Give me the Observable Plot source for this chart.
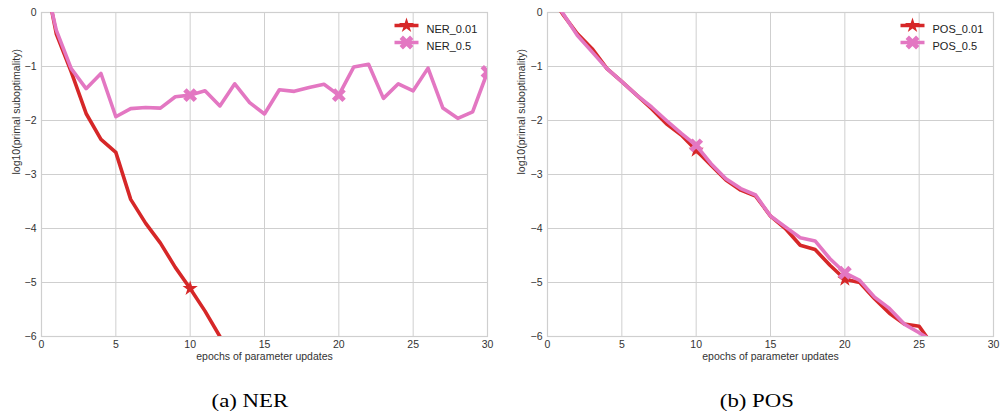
<!DOCTYPE html>
<html><head><meta charset="utf-8">
<script src="https://cdn.jsdelivr.net/npm/d3@7"></script>
<script src="https://cdn.jsdelivr.net/npm/@observablehq/plot@0.6"></script>
<style>
body{margin:0;background:#fff;width:1000px;height:416px;overflow:hidden}
#row{display:flex}
.panel{width:500px;height:416px;position:relative}
.cap{position:absolute;top:372px;height:44px;width:200px;text-align:center;font-family:"Liberation Serif","Times New Roman",serif;font-size:19px;line-height:20px;padding-top:19px;box-sizing:border-box;color:#000}
.cap span{display:inline-block;transform:scaleX(1.2)}
svg text{font-family:"Liberation Sans",Arial,sans-serif}
</style></head><body>
<div id="row"><div class="panel" id="a"></div><div class="panel" id="b"></div></div>
<script>
// ---- data ----
const epochs = [0,1,2,3,4,5,6,7,8,9,10,11,12,13,14,15,16,17,18,19,20,21,22,23,24,25,26,27,28,29,30];
const nerNames = ["NER_0.01","NER_0.5"];
const posNames = ["POS_0.01","POS_0.5"];
const ner001 = [1.0,-0.40,-1.10,-1.87,-2.35,-2.59,-3.46,-3.90,-4.27,-4.72,-5.11,-5.53,-6.00,-6.50];
const ner05  = [0.85,-0.33,-1.04,-1.41,-1.13,-1.93,-1.78,-1.76,-1.77,-1.56,-1.53,-1.45,-1.73,-1.32,-1.67,-1.88,-1.43,-1.46,-1.39,-1.33,-1.53,-1.01,-0.96,-1.59,-1.32,-1.45,-1.03,-1.77,-1.96,-1.84,-1.10];
const pos001 = [0.40,-0.02,-0.39,-0.67,-1.04,-1.28,-1.53,-1.78,-2.06,-2.27,-2.55,-2.83,-3.10,-3.29,-3.40,-3.77,-4.00,-4.31,-4.39,-4.68,-4.94,-5.00,-5.30,-5.57,-5.77,-5.81,-6.20];
const pos05  = [0.40,0.00,-0.42,-0.73,-1.04,-1.28,-1.53,-1.75,-2.00,-2.24,-2.46,-2.80,-3.08,-3.26,-3.38,-3.77,-3.97,-4.17,-4.23,-4.56,-4.82,-4.96,-5.27,-5.48,-5.77,-5.93,-6.10];
const xTicks = [0,5,10,15,20,25,30];
const yTicks = [-6,-5,-4,-3,-2,-1,0];
const colors = ["#d62728","#e377c2"];
const xLabel = "epochs of parameter updates";
const yLabel = "log10(primal suboptimality)";
const captions = ["(a) NER","(b) POS"];
const markEvery = 10;

// ---- symbols ----
const starSym = {draw(ctx){ d3.symbolStar.draw(ctx, 72); }};
const xSym = {draw(ctx){
  const h=2.4, a=7.4, s=Math.SQRT1_2;
  const pts=[[-h,-a],[h,-a],[h,-h],[a,-h],[a,h],[h,h],[h,a],[-h,a],[-h,h],[-a,h],[-a,-h],[-h,-h]]
    .map(([x,y])=>[(x-y)*s,(x+y)*s]);
  ctx.moveTo(pts[0][0],pts[0][1]);
  for(const p of pts.slice(1)) ctx.lineTo(p[0],p[1]);
  ctx.closePath();
}};
const lineSym = {draw(ctx){ ctx.rect(-12,-1.75,24,3.5); }};
const syms = [starSym, xSym];
const fmt = d3.format("d");

function rows(vals, name){ return vals.map((v,i)=>({epoch:epochs[i], value:v, series:name})); }

function panel(el, names, series, ml, mr, labelDx, capCenter, capText){
  const marks = [
    Plot.gridX(xTicks,{stroke:"#cfcfcf",strokeOpacity:1,strokeWidth:1}),
    Plot.gridY(yTicks,{stroke:"#cfcfcf",strokeOpacity:1,strokeWidth:1}),
    Plot.frame({stroke:"#cfcfcf",strokeWidth:1.2}),
    Plot.axisX(xTicks,{tickSize:0,tickPadding:4,label:null,fontSize:10.5,fill:"#333",tickFormat:fmt}),
    Plot.axisY(yTicks,{tickSize:0,tickPadding:5,label:null,fontSize:10.5,fill:"#333",tickFormat:fmt}),
    Plot.text([xLabel],{frameAnchor:"bottom",dy:23,text:d=>d,fontSize:10.5,fill:"#333"}),
    Plot.text([yLabel],{frameAnchor:"left",dx:labelDx,rotate:-90,text:d=>d,fontSize:10.5,fill:"#333"})
  ];
  series.forEach((vals,k)=>{
    const data = rows(vals,names[k]);
    marks.push(Plot.line(data,{x:"epoch",y:"value",stroke:colors[k],strokeWidth:3.6,clip:true}));
    marks.push(Plot.dot(data.filter(d=>d.epoch%markEvery===0),{x:"epoch",y:"value",symbol:syms[k],fill:colors[k],stroke:"none",clip:true}));
  });
  names.forEach((n,k)=>{
    const dy = 13 + k*17;
    marks.push(Plot.dot([n],{frameAnchor:"top-right",dx:-81,dy,symbol:lineSym,fill:colors[k],stroke:"none"}));
    marks.push(Plot.dot([n],{frameAnchor:"top-right",dx:-81,dy,symbol:syms[k],fill:colors[k],stroke:"none"}));
    marks.push(Plot.text([n],{frameAnchor:"top-right",dx:-61,dy,textAnchor:"start",text:d=>d,fontSize:11,fill:"#222"}));
  });
  const p = Plot.plot({
    width:500,height:372,marginLeft:ml,marginRight:mr,marginTop:12,marginBottom:36,
    x:{domain:[0,30]}, y:{domain:[-6,0]},
    style:{fontFamily:"Liberation Sans, Arial, sans-serif",background:"#fff",overflow:"visible"},
    marks
  });
  el.appendChild(p);
  const c=document.createElement("div");
  c.className="cap"; c.style.left=(capCenter-100)+"px";
  const s=document.createElement("span"); s.textContent=capText;
  c.appendChild(s); el.appendChild(c);
}
panel(document.getElementById("a"), nerNames, [ner001,ner05], 41, 13, -25, 250, captions[0]);
panel(document.getElementById("b"), posNames, [pos001,pos05], 47, 7, -26, 257, captions[1]);
</script>
</body></html>
